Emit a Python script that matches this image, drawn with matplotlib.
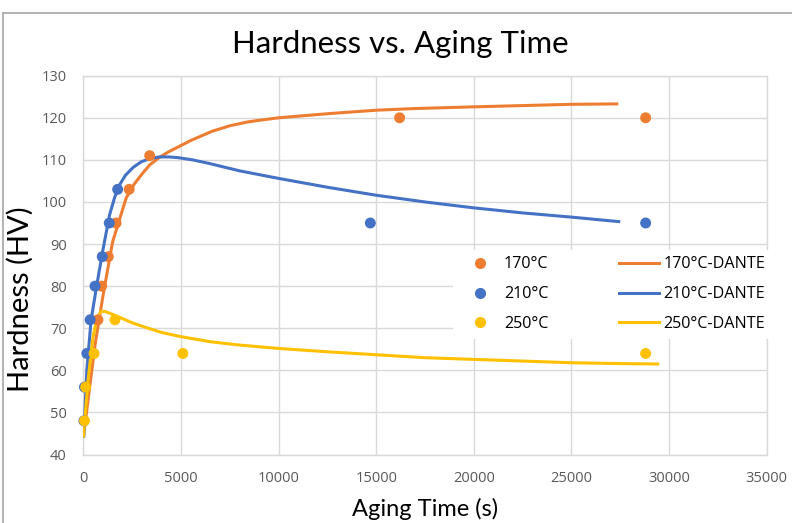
import matplotlib
matplotlib.use("Agg")
from matplotlib import pyplot as plt
from matplotlib.lines import Line2D

# Measured hardness (symbols)
t_170 = [750, 940, 1280, 1680, 2350, 3400, 16200, 28800]
hv_170 = [72, 80, 87, 95, 103, 111, 120, 120]
t_210 = [30, 60, 180, 350, 600, 970, 1330, 1760, 14700, 28800]
hv_210 = [48, 56, 64, 72, 80, 87, 95, 103, 95, 95]
t_250 = [60, 120, 550, 1620, 5100, 28800]
hv_250 = [48, 56, 64, 72, 64, 64]

# DANTE model curves
dante_t_170 = [0, 300, 600, 1000, 1500, 2200, 2600, 3000, 3400, 3900, 4400, 5000, 5500,
               6000, 6600, 7500, 8400, 9000, 10000, 11300, 12600, 15000, 17000, 20000,
               22500, 25000, 27400]
dante_hv_170 = [44, 55, 66, 77.5, 90.5, 101, 104.2, 106.6, 108.8, 110.6, 112, 113.4, 114.6,
                115.6, 116.8, 118.1, 119, 119.4, 120, 120.5, 121, 121.8, 122.2, 122.6,
                122.9, 123.2, 123.3]
dante_t_210 = [20, 180, 400, 700, 1000, 1350, 1600, 1850, 2150, 2550, 2950, 3400, 3900,
               4400, 4900, 5600, 6400, 7200, 8000, 10000, 12500, 15000, 17500, 20000,
               22500, 25000, 27500]
dante_hv_210 = [44, 60, 72, 80.5, 88.5, 97, 101, 104, 106.3, 108.2, 109.5, 110.3, 110.7,
                110.7, 110.5, 110, 109.2, 108.3, 107.4, 105.6, 103.5, 101.6, 100, 98.6,
                97.4, 96.4, 95.3]
dante_t_250 = [0, 250, 500, 700, 900, 1100, 1500, 2000, 2500, 3000, 4000, 5000, 6500, 8000,
               10000, 12500, 15000, 17500, 20000, 22500, 25000, 27500, 29500]
dante_hv_250 = [44, 58, 68, 72.3, 74, 74, 73.3, 72.3, 71.3, 70.5, 69, 68, 66.8, 66,
                65.2, 64.4, 63.7, 63, 62.6, 62.2, 61.8, 61.6, 61.5]

labels = ["170°C", "210°C", "250°C"]
colors = ["#ED7D31", "#4472C4", "#FFC000"]

plt.rcParams["font.family"] = ["Open Sans", "DejaVu Sans"]

fig = plt.figure(figsize=(7.92, 5.23), dpi=100)
ax = fig.add_axes([83.3 / 792, 1 - 454.5 / 523, 683.4 / 792, 378.8 / 523])

dante = [(dante_t_170, dante_hv_170), (dante_t_210, dante_hv_210), (dante_t_250, dante_hv_250)]
meas = [(t_170, hv_170), (t_210, hv_210), (t_250, hv_250)]

for (x, y), c in zip(dante, colors):
    ax.plot(x, y, color=c, lw=2.2, zorder=3, solid_capstyle="butt", solid_joinstyle="round")
for (x, y), c in zip(meas, colors):
    ax.scatter(x, y, s=62, color=c, edgecolors="none", zorder=4, clip_on=False)

ax.set_xlim(0, 35000)
ax.set_ylim(40, 130)
ax.set_xticks(range(0, 35001, 5000))
ax.set_yticks(range(40, 131, 10))
ax.grid(True, color="#D9D9D9", lw=1.0, zorder=0)
ax.set_axisbelow(True)
for s in ax.spines.values():
    s.set_color("#D9D9D9")
    s.set_linewidth(1.0)
ax.tick_params(length=0, labelsize=10.5, labelcolor="#595959", pad=12)

ax.set_xlabel("Aging Time (s)", fontsize=17, family=["Lato", "DejaVu Sans"])
ax.xaxis.set_label_coords(0.5, -0.115)
ax.set_ylabel("Hardness (HV)", fontsize=21, family=["Lato", "DejaVu Sans"])
ax.yaxis.set_label_coords(-0.072, 0.41)
fig.text(0.505, 1 - 44 / 523, "Hardness vs. Aging Time", fontsize=22.4,
         family=["Lato", "DejaVu Sans"], ha="center", va="center")

handles = [Line2D([], [], ls="none", marker="o", ms=8, color=c, mec="none") for c in colors]
handles += [Line2D([], [], color=c, lw=2.2) for c in colors]
names = labels + [l + "-DANTE" for l in labels]
leg = ax.legend(handles, names, ncol=2, loc="upper left", bbox_to_anchor=(0.541, 0.54),
                fontsize=11.6, frameon=True, facecolor="white", edgecolor="none", framealpha=1,
                handlelength=2.5, handletextpad=0.25, columnspacing=4.4, labelspacing=0.86,
                borderaxespad=0)
leg.set_zorder(5)

# chart frame (left and top edges visible in the reference)
fig.add_artist(Line2D([3 / 792, 3 / 792], [0, 1 - 13 / 523], color="#A6A6A6", lw=1.2))
fig.add_artist(Line2D([3 / 792, 1], [1 - 13 / 523, 1 - 13 / 523], color="#A6A6A6", lw=1.2))

fig.savefig("out.png", dpi=100)
